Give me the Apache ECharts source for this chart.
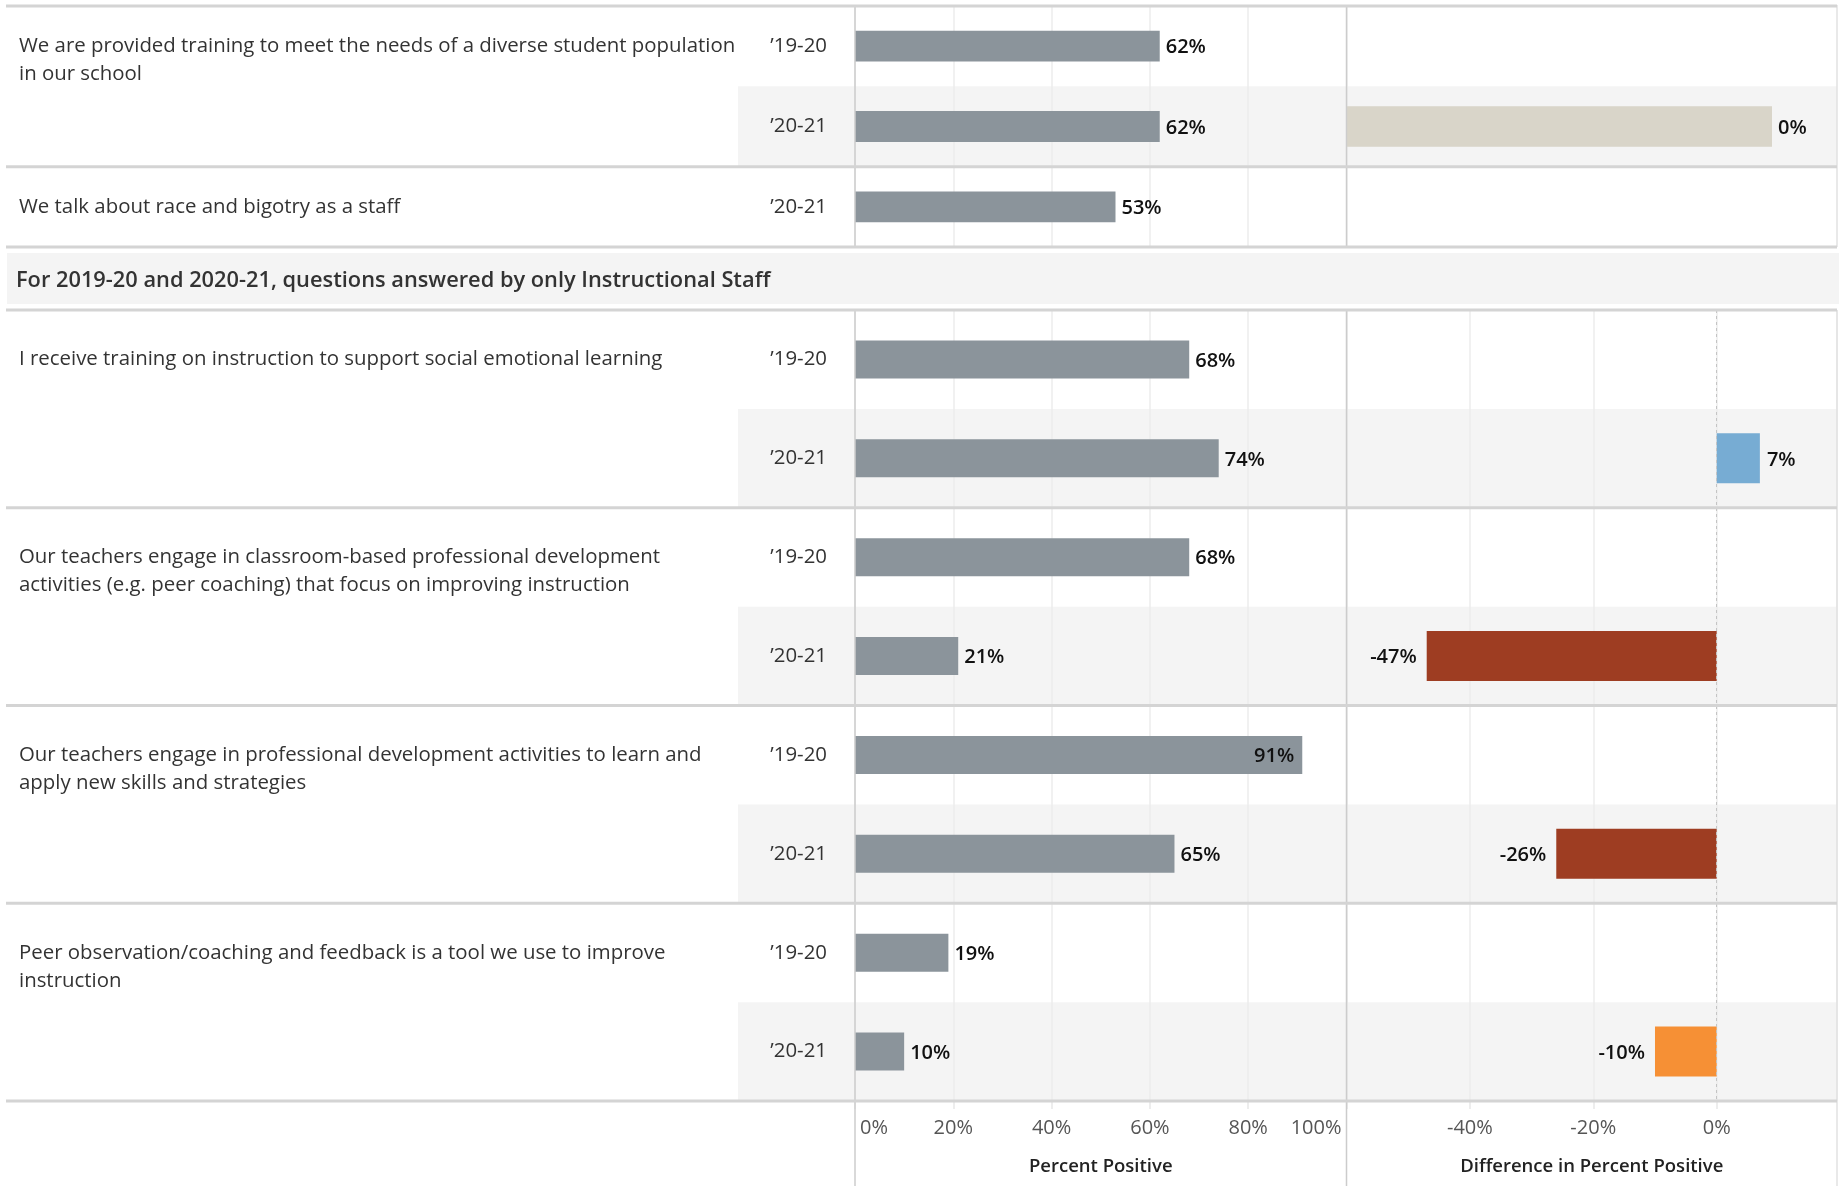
<!DOCTYPE html>
<html>
<head>
<meta charset="utf-8">
<title>Percent Positive by Survey Question</title>
<script src="https://cdn.jsdelivr.net/npm/echarts@6/dist/echarts.min.js"></script>
<style>
  html, body { margin: 0; padding: 0; background: #ffffff; }
  #chart { width: 1839px; height: 1186px; }
</style>
</head>
<body>
<div id="chart"></div>
<script>
// ---------------- Survey data ----------------
const sectionOneQuestions = [
  'We are provided training to meet the needs of a diverse student population\nin our school',
  'We talk about race and bigotry as a staff'
];
const sectionOneRowQuestion = [0, 0, 1];
const sectionOneYears = ['\u201919-20', '\u201920-21', '\u201920-21'];
const sectionOnePercent = [62, 62, 53];
const sectionOneDifference = [null, 0, null];

const sectionTwoTitle = 'For 2019-20 and 2020-21, questions answered by only Instructional Staff';
const sectionTwoQuestions = [
  'I receive training on instruction to support social emotional learning',
  'Our teachers engage in classroom-based professional development\nactivities (e.g. peer coaching) that focus on improving instruction',
  'Our teachers engage in professional development activities to learn and\napply new skills and strategies',
  'Peer observation/coaching and feedback is a tool we use to improve\ninstruction'
];
const sectionTwoRowQuestion = [0, 0, 1, 1, 2, 2, 3, 3];
const sectionTwoYears = ['\u201919-20', '\u201920-21', '\u201919-20', '\u201920-21',
                         '\u201919-20', '\u201920-21', '\u201919-20', '\u201920-21'];
const sectionTwoPercent = [68, 74, 68, 21, 91, 65, 19, 10];
const sectionTwoDifference = [null, 7, null, -47, null, -26, null, -10];

const percentAxisTitle = 'Percent Positive';
const differenceAxisTitle = 'Difference in Percent Positive';
const percentAxisRange = [0, 100];
const differenceAxisRange = [-60, 19.5];
const axisStep = 20;

// ---------------- Layout ----------------
const FONT = '"Open Sans", "Noto Sans", sans-serif';
const LEFT_EDGE = 6, RIGHT_EDGE = 1837, PAGE_BOTTOM = 1186;
const BAND_LEFT = 738;                 // shaded row band starts at the year column
const PCT_LEFT = 855, PCT_RIGHT = 1346.5;
const S1_DIFF_RIGHT = 1772;
const S1 = { top: 6, bottom: 247 };
const HEADER = { top: 253, bottom: 304 };
const S2 = { top: 310, bottom: 1101 };
const QUESTION_X = 19;
const YEAR_RIGHT = 827;
const LINE_H = 28.3;
const TEXT_DROP = 5;                   // nudges row text slightly below the row centre

const BAR_GREY = '#8b949b';
const GRID_LINE = { color: '#ededed', width: 1.5 };
const DIVIDER = '#d4d4d4';

// Diverging palette for the change between years
function diffColor(v) {
  if (v > 0) return '#77acd3';
  if (v === 0) return '#d9d5c9';
  if (v >= -20) return '#f69035';
  return '#9e3d22';
}
function pct(v) { return Math.round(v) + '%'; }
function rowKeys(n, prefix) { return Array.from({ length: n }, (_, i) => prefix + i); }

// Question text is shown once per question, first line centred on its first row
function questionLabels(questions, rowQuestion) {
  return rowQuestion.map((q, i) => {
    if (i > 0 && rowQuestion[i - 1] === q) return '';
    const lines = questions[q].split('\n');
    return '\n'.repeat(lines.length - 1) + lines.join('\n');
  });
}

const s1Keys = rowKeys(sectionOneYears.length, 'a');
const s2Keys = rowKeys(sectionTwoYears.length, 'b');
const s1QuestionText = questionLabels(sectionOneQuestions, sectionOneRowQuestion);
const s2QuestionText = questionLabels(sectionTwoQuestions, sectionTwoRowQuestion);

// ---------------- Axes ----------------
function bandAxis(grid, keys) {
  return {
    type: 'category', gridIndex: grid, data: keys, inverse: true, z: 0,
    axisLine: { show: false }, axisTick: { show: false }, axisLabel: { show: false },
    splitLine: { show: false },
    splitArea: { show: true, areaStyle: { color: ['rgba(255,255,255,0)', '#f4f4f4'] } }
  };
}
function yearAxis(grid, keys, years) {
  return {
    type: 'category', gridIndex: grid, data: keys, inverse: true, position: 'left', z: 1,
    axisLine: { show: false }, axisTick: { show: false },
    axisLabel: {
      interval: 0, margin: PCT_LEFT - YEAR_RIGHT, fontSize: 20.4, color: '#333',
      padding: [TEXT_DROP, 0, 0, 0],
      fontFamily: FONT, formatter: (v, i) => years[i]
    }
  };
}
function questionAxis(grid, keys, labels) {
  return {
    type: 'category', gridIndex: grid, data: keys, inverse: true, position: 'left', z: 1,
    offset: PCT_LEFT - QUESTION_X - 8,
    axisLine: { show: false }, axisTick: { show: false },
    axisLabel: {
      interval: 0, margin: 8, align: 'left', fontSize: 20.4, lineHeight: LINE_H,
      padding: [TEXT_DROP, 0, 0, 0],
      color: '#333', fontFamily: FONT, formatter: (v, i) => labels[i]
    }
  };
}
function hiddenCategory(grid, keys) {
  return { type: 'category', gridIndex: grid, data: keys, inverse: true, show: false };
}

const tickLabel = { fontSize: 20, lineHeight: 20, color: '#555', margin: 17, fontFamily: FONT,
                    padding: [0, 5, 0, 5], formatter: '{value}%' };
const axisTitle = { fontSize: 18.5, lineHeight: 19, fontWeight: 600, color: '#222', fontFamily: FONT };

const xAxis = [
  { type: 'value', gridIndex: 0, min: 0, max: 1, show: false },
  {
    type: 'value', gridIndex: 1, min: percentAxisRange[0], max: percentAxisRange[1], interval: axisStep, z: 1,
    axisLine: { show: false }, axisTick: { show: false }, axisLabel: { show: false },
    splitLine: { lineStyle: GRID_LINE }
  },
  { type: 'value', gridIndex: 2, min: -1, max: 0, show: false },
  { type: 'value', gridIndex: 3, min: 0, max: 1, show: false },
  {
    type: 'value', gridIndex: 4, position: 'bottom', z: 1,
    min: percentAxisRange[0], max: percentAxisRange[1], interval: axisStep,
    axisLine: { show: false },
    axisTick: { show: true, length: 8, lineStyle: { color: '#e8e8e8', width: 1.5 } },
    axisLabel: Object.assign({ alignMinLabel: 'left', alignMaxLabel: 'right' }, tickLabel),
    splitLine: { lineStyle: GRID_LINE },
    name: percentAxisTitle, nameLocation: 'middle', nameGap: 56, nameTextStyle: axisTitle
  },
  {
    type: 'value', gridIndex: 5, position: 'bottom', z: 1,
    min: differenceAxisRange[0], max: differenceAxisRange[1], interval: axisStep,
    axisLine: { show: false },
    axisTick: { show: true, length: 8, lineStyle: { color: '#e8e8e8', width: 1.5 } },
    axisLabel: Object.assign({ showMinLabel: false, showMaxLabel: false }, tickLabel),
    splitLine: { lineStyle: GRID_LINE },
    name: differenceAxisTitle, nameLocation: 'middle', nameGap: 56, nameTextStyle: axisTitle
  }
];

const yAxis = [
  bandAxis(0, s1Keys),                            // 0
  yearAxis(1, s1Keys, sectionOneYears),           // 1
  questionAxis(1, s1Keys, s1QuestionText),        // 2
  hiddenCategory(2, s1Keys),                      // 3
  bandAxis(3, s2Keys),                            // 4
  yearAxis(4, s2Keys, sectionTwoYears),           // 5
  questionAxis(4, s2Keys, s2QuestionText),        // 6
  hiddenCategory(5, s2Keys)                       // 7
];

function grid(left, right, sec) {
  return { left: left, top: sec.top, width: right - left, height: sec.bottom - sec.top,
           containLabel: false, outerBoundsMode: 'none', show: false };
}
const grids = [
  grid(BAND_LEFT, RIGHT_EDGE, S1),
  grid(PCT_LEFT, PCT_RIGHT, S1),
  grid(PCT_RIGHT, S1_DIFF_RIGHT, S1),
  grid(BAND_LEFT, RIGHT_EDGE, S2),
  grid(PCT_LEFT, PCT_RIGHT, S2),
  grid(PCT_RIGHT, RIGHT_EDGE, S2)
];

// ---------------- Series ----------------
const valueLabel = { show: true, fontSize: 20, fontWeight: 600, color: '#111', fontFamily: FONT,
                     offset: [0, 1.5] };

function percentItems(values) {
  return values.map(v => ({
    value: v,
    label: v > 85 ? { position: 'insideRight', distance: 8 } : { position: 'right', distance: 6 }
  }));
}
function differenceItems(values) {
  return values.map(v => v == null ? '-' : ({
    value: v,
    itemStyle: { color: diffColor(v) },
    label: v < 0 ? { position: 'left', distance: 10 } : { position: 'right', distance: 7 }
  }));
}
function labelValue(p) { return pct(Array.isArray(p.value) ? p.value[0] : p.value); }

// Section one change: only rows with a comparison, placed by row index
const s1DiffPairs = [];
sectionOneDifference.forEach((v, i) => { if (v != null) s1DiffPairs.push([v, i]); });

const series = [
  {
    type: 'bar', xAxisIndex: 1, yAxisIndex: 1, barWidth: '38.4%', z: 2,
    itemStyle: { color: BAR_GREY },
    label: Object.assign({ formatter: labelValue }, valueLabel),
    data: percentItems(sectionOnePercent)
  },
  {
    type: 'bar', xAxisIndex: 2, yAxisIndex: 3, barWidth: '50.5%', z: 2,
    encode: { x: 0, y: 1 },
    showBackground: true, backgroundStyle: { color: diffColor(0) },
    itemStyle: { color: diffColor(0) },
    label: Object.assign({ position: 'right', distance: 6, formatter: labelValue }, valueLabel),
    data: s1DiffPairs
  },
  {
    type: 'bar', xAxisIndex: 4, yAxisIndex: 5, barWidth: '38.4%', z: 2,
    itemStyle: { color: BAR_GREY },
    label: Object.assign({ formatter: labelValue }, valueLabel),
    data: percentItems(sectionTwoPercent)
  },
  {
    type: 'bar', xAxisIndex: 5, yAxisIndex: 7, barWidth: '50.5%', z: 2,
    label: Object.assign({ formatter: labelValue }, valueLabel),
    data: differenceItems(sectionTwoDifference),
    markLine: {
      silent: true, symbol: ['none', 'none'], label: { show: false },
      lineStyle: { type: [3, 3], color: '#c4c4c4', width: 1 },
      data: [{ xAxis: 0 }]
    }
  }
];

// ---------------- Dividers, header band ----------------
const graphics = [];
function hLine(y) {
  graphics.push({ type: 'line', silent: true, z: 10,
    shape: { x1: LEFT_EDGE, y1: y, x2: RIGHT_EDGE, y2: y },
    style: { stroke: DIVIDER, lineWidth: 3 } });
}
function vLine(x, y1, y2, color) {
  graphics.push({ type: 'line', silent: true, z: 9,
    shape: { x1: x, y1: y1, x2: x, y2: y2 },
    style: { stroke: color, lineWidth: 1.5 } });
}
function questionDividers(sec, rowQuestion) {
  const h = (sec.bottom - sec.top) / rowQuestion.length;
  hLine(sec.top);
  rowQuestion.forEach((q, i) => { if (i > 0 && rowQuestion[i - 1] !== q) hLine(sec.top + i * h); });
  hLine(sec.bottom);
}
questionDividers(S1, sectionOneRowQuestion);
questionDividers(S2, sectionTwoRowQuestion);

[[PCT_LEFT, '#cccccc'], [PCT_RIGHT, '#cccccc'], [RIGHT_EDGE, '#e2e2e2']].forEach(([x, c]) => {
  vLine(x, S1.top - 1, S1.bottom, c);
  vLine(x, S2.top, PAGE_BOTTOM, c);
});

graphics.push({ type: 'rect', silent: true, z: 8,
  shape: { x: LEFT_EDGE + 1, y: HEADER.top, width: 1839 - LEFT_EDGE - 1, height: HEADER.bottom - HEADER.top },
  style: { fill: '#f4f4f4' } });
graphics.push({ type: 'text', silent: true, z: 11,
  style: { x: 16, y: (HEADER.top + HEADER.bottom) / 2 + 2.5, text: sectionTwoTitle,
           fontFamily: FONT, fontSize: 21.8, fontWeight: 600, fill: '#333', verticalAlign: 'middle' } });

// ---------------- Chart ----------------
const chart = echarts.init(document.getElementById('chart'), null, { renderer: 'canvas' });
chart.setOption({
  animation: false,
  backgroundColor: '#ffffff',
  textStyle: { fontFamily: FONT },
  grid: grids,
  xAxis: xAxis,
  yAxis: yAxis,
  series: series,
  graphic: graphics
});
</script>
</body>
</html>
